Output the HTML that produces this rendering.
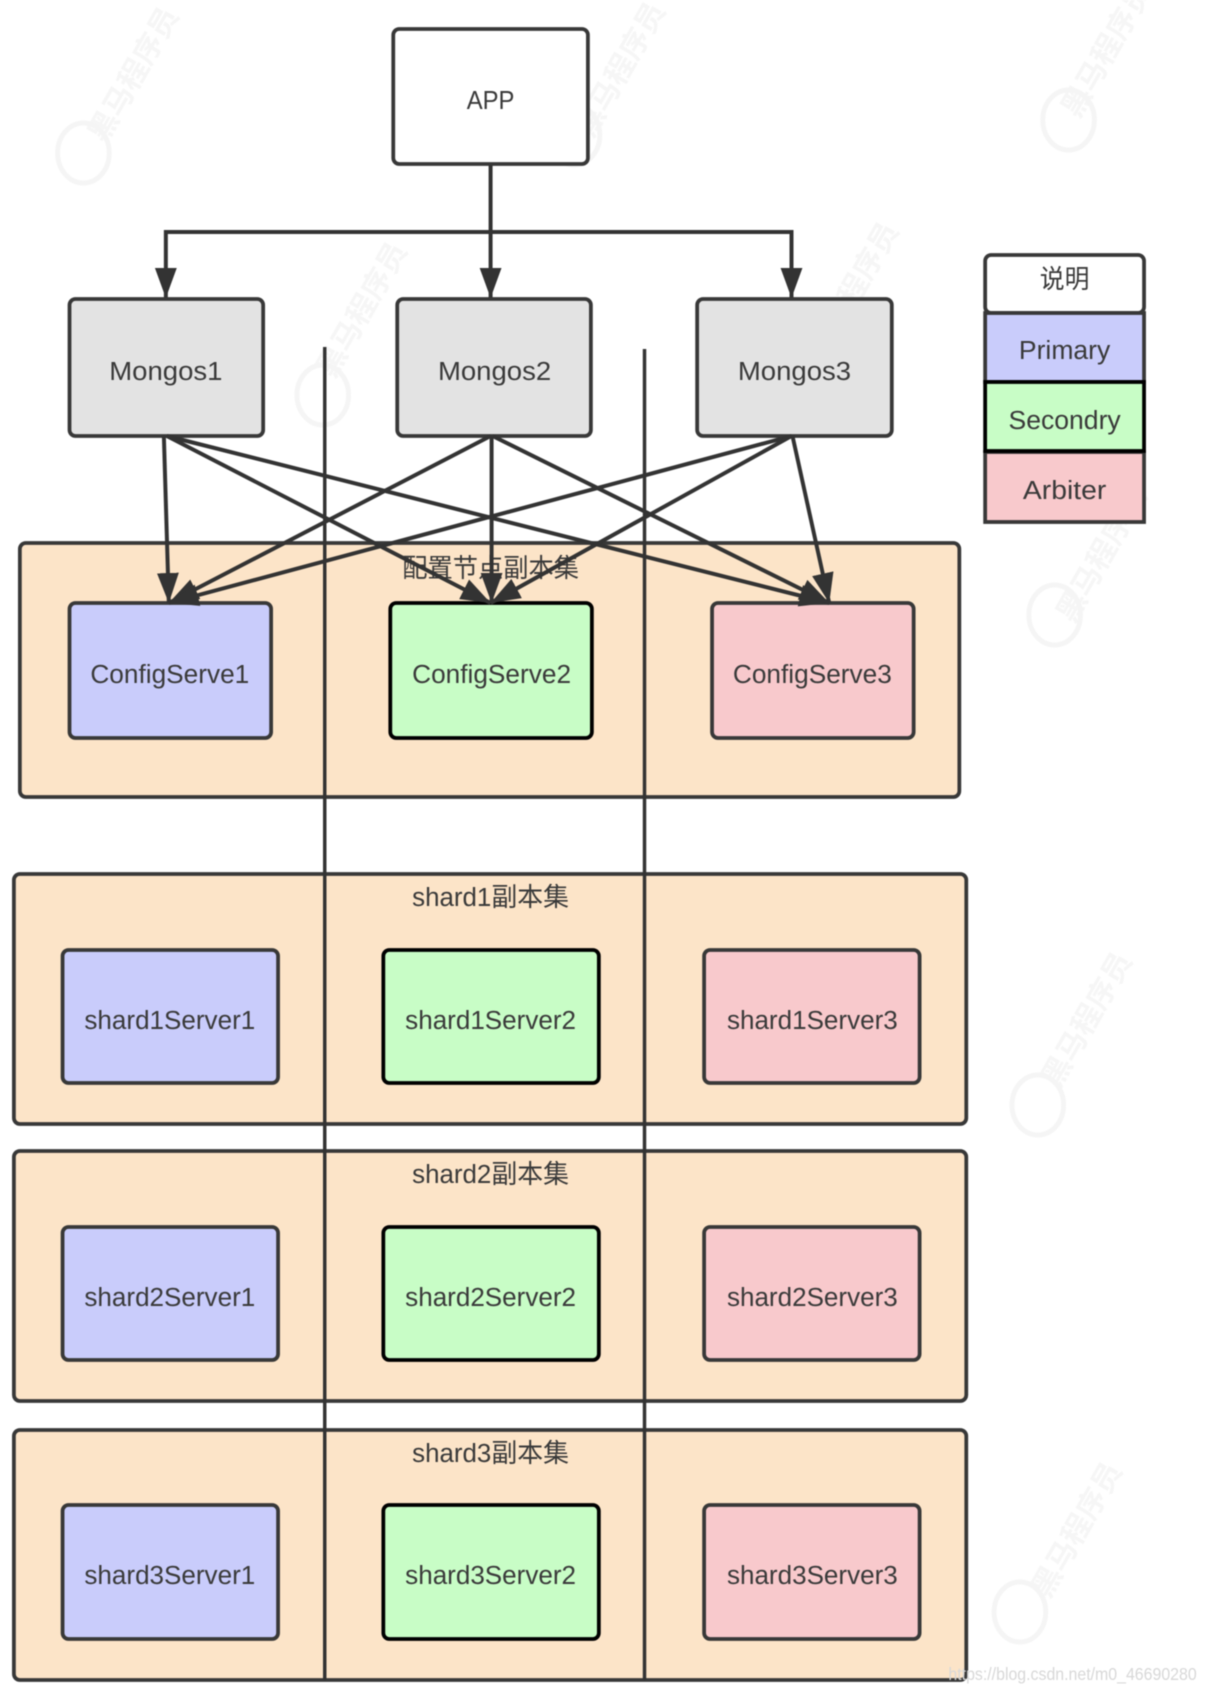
<!DOCTYPE html>
<html><head><meta charset="utf-8"><style>
html,body{margin:0;padding:0;background:#fff}
svg{display:block;filter:blur(.45px)}
text{font-family:"Liberation Sans","Noto Sans CJK SC",sans-serif;font-size:26px;fill:#3a3a3a;text-anchor:middle;dominant-baseline:central}
text:not(.w){transform:translateY(1px)}
.c{fill:#fce4c8;stroke:#383838;stroke-width:3.8}
.g{fill:#e3e3e3;stroke:#383838;stroke-width:3.8}
.p{fill:#c9ccfb;stroke:#383838;stroke-width:3.8}
.s{fill:#c8fdc6;stroke:#000;stroke-width:3.8}
.r{fill:#f8c9cc;stroke:#383838;stroke-width:3.8}
.l{stroke:#333;stroke-width:4;fill:none}
.w{fill:#f6f6f6;font-size:30px;font-weight:bold}
.wc{fill:none;stroke:#f5f5f5;stroke-width:5}
</style></head><body>
<svg width="1206" height="1692" viewBox="0 0 1206 1692" xmlns="http://www.w3.org/2000/svg">
<defs><marker id="a" markerUnits="userSpaceOnUse" markerWidth="32" markerHeight="24" refX="30" refY="12" orient="auto"><path d="M0 1 L30 12 L0 23 Z" fill="#333"/></marker></defs>
<g transform="scale(.9931 1)">
<g>
<text class="w" transform="translate(135,75) rotate(-60)">黑马程序员</text><ellipse class="wc" cx="84" cy="153" rx="26" ry="30"/>
<text class="w" transform="translate(625,70) rotate(-60)">黑马程序员</text><ellipse class="wc" cx="578" cy="135" rx="26" ry="30"/>
<text class="w" transform="translate(1115,50) rotate(-60)">黑马程序员</text><ellipse class="wc" cx="1076" cy="120" rx="26" ry="30"/>
<text class="w" transform="translate(365,310) rotate(-60)">黑马程序员</text><ellipse class="wc" cx="325" cy="395" rx="26" ry="30"/>
<text class="w" transform="translate(860,290) rotate(-60)">黑马程序员</text><ellipse class="wc" cx="820" cy="375" rx="26" ry="30"/>
<text class="w" transform="translate(1110,555) rotate(-60)">黑马程序员</text><ellipse class="wc" cx="1062" cy="615" rx="26" ry="30"/>
<text class="w" transform="translate(1095,1020) rotate(-60)">黑马程序员</text><ellipse class="wc" cx="1045" cy="1105" rx="26" ry="30"/>
<text class="w" transform="translate(1085,1530) rotate(-60)">黑马程序员</text><ellipse class="wc" cx="1027" cy="1612" rx="26" ry="30"/>
</g>

<rect x="396" y="29" width="196" height="135" rx="6" fill="#fff" stroke="#383838" stroke-width="3.8"/>
<text x="494" y="100" textLength="48" lengthAdjust="spacingAndGlyphs">APP</text>

<path class="l" d="M494 165V232"/>
<path class="l" d="M167 232H798"/>
<path class="l" d="M167 230V298" marker-end="url(#a)"/>
<path class="l" d="M494 232V298" marker-end="url(#a)"/>
<path class="l" d="M797 230V298" marker-end="url(#a)"/>

<rect class="g" x="70" y="299" width="195" height="137" rx="6"/>
<rect class="g" x="400" y="299" width="195" height="137" rx="6"/>
<rect class="g" x="702" y="299" width="196" height="137" rx="6"/>
<text x="167" y="371" textLength="114" lengthAdjust="spacingAndGlyphs">Mongos1</text>
<text x="498" y="371" textLength="114" lengthAdjust="spacingAndGlyphs">Mongos2</text>
<text x="800" y="371" textLength="114" lengthAdjust="spacingAndGlyphs">Mongos3</text>

<!-- legend -->
<rect x="992" y="255" width="160" height="58" rx="6" fill="#fff" stroke="#383838" stroke-width="3.8"/>
<rect class="p" x="992" y="313" width="160" height="69"/>
<rect class="r" x="992" y="452" width="160" height="70"/>
<rect class="s" x="992" y="382" width="160" height="69"/>
<text x="1072" y="279" textLength="50" lengthAdjust="spacingAndGlyphs">说明</text>
<text x="1072" y="350" textLength="92" lengthAdjust="spacingAndGlyphs">Primary</text>
<text x="1072" y="420" textLength="113" lengthAdjust="spacingAndGlyphs">Secondry</text>
<text x="1072" y="490" textLength="84" lengthAdjust="spacingAndGlyphs">Arbiter</text>

<!-- config -->
<rect class="c" x="20" y="543" width="946" height="254" rx="6"/>
<text x="494" y="568" textLength="178" lengthAdjust="spacingAndGlyphs">配置节点副本集</text>
<rect class="p" x="70" y="603" width="203" height="135" rx="6"/>
<rect class="s" x="393" y="603" width="203" height="135" rx="6"/>
<rect class="r" x="717" y="603" width="203" height="135" rx="6"/>
<text x="171" y="674" textLength="160" lengthAdjust="spacingAndGlyphs">ConfigServe1</text>
<text x="495" y="674" textLength="160" lengthAdjust="spacingAndGlyphs">ConfigServe2</text>
<text x="818" y="674" textLength="160" lengthAdjust="spacingAndGlyphs">ConfigServe3</text>

<!-- shard1 -->
<rect class="c" x="14" y="874" width="959" height="250" rx="6"/>
<text x="494" y="897" textLength="158" lengthAdjust="spacingAndGlyphs">shard1副本集</text>
<rect class="p" x="63" y="950" width="217" height="133" rx="6"/>
<rect class="s" x="386" y="950" width="217" height="133" rx="6"/>
<rect class="r" x="709" y="950" width="217" height="133" rx="6"/>
<text x="171" y="1020" textLength="172" lengthAdjust="spacingAndGlyphs">shard1Server1</text>
<text x="494" y="1020" textLength="172" lengthAdjust="spacingAndGlyphs">shard1Server2</text>
<text x="818" y="1020" textLength="172" lengthAdjust="spacingAndGlyphs">shard1Server3</text>

<!-- shard2 -->
<rect class="c" x="14" y="1151" width="959" height="250" rx="6"/>
<text x="494" y="1174" textLength="158" lengthAdjust="spacingAndGlyphs">shard2副本集</text>
<rect class="p" x="63" y="1227" width="217" height="133" rx="6"/>
<rect class="s" x="386" y="1227" width="217" height="133" rx="6"/>
<rect class="r" x="709" y="1227" width="217" height="133" rx="6"/>
<text x="171" y="1297" textLength="172" lengthAdjust="spacingAndGlyphs">shard2Server1</text>
<text x="494" y="1297" textLength="172" lengthAdjust="spacingAndGlyphs">shard2Server2</text>
<text x="818" y="1297" textLength="172" lengthAdjust="spacingAndGlyphs">shard2Server3</text>

<!-- shard3 -->
<rect class="c" x="14" y="1430" width="959" height="250" rx="6"/>
<text x="494" y="1453" textLength="158" lengthAdjust="spacingAndGlyphs">shard3副本集</text>
<rect class="p" x="63" y="1505" width="217" height="134" rx="6"/>
<rect class="s" x="386" y="1505" width="217" height="134" rx="6"/>
<rect class="r" x="709" y="1505" width="217" height="134" rx="6"/>
<text x="171" y="1575" textLength="172" lengthAdjust="spacingAndGlyphs">shard3Server1</text>
<text x="494" y="1575" textLength="172" lengthAdjust="spacingAndGlyphs">shard3Server2</text>
<text x="818" y="1575" textLength="172" lengthAdjust="spacingAndGlyphs">shard3Server3</text>

<!-- vertical lines -->
<path d="M327 347V1680M649 349V1680" stroke="#333" stroke-width="3.5" fill="none"/>

<!-- mongos to config -->
<path class="l" d="M165 436L170 603" marker-end="url(#a)"/>
<path class="l" d="M168 436L494 603" marker-end="url(#a)"/>
<path class="l" d="M168 436L835 603" marker-end="url(#a)"/>
<path class="l" d="M494 436L170 603" marker-end="url(#a)"/>
<path class="l" d="M495 436V603" marker-end="url(#a)"/>
<path class="l" d="M496 436L835 603" marker-end="url(#a)"/>
<path class="l" d="M797 436L170 603" marker-end="url(#a)"/>
<path class="l" d="M797 436L494 603" marker-end="url(#a)"/>
<path class="l" d="M798 436L835 603" marker-end="url(#a)"/>

<text x="1080" y="1673" textLength="250" lengthAdjust="spacingAndGlyphs" style="fill:#d8d8d8;font-size:18px">https://blog.csdn.net/m0_46690280</text>
</g>
</svg>
</body></html>
